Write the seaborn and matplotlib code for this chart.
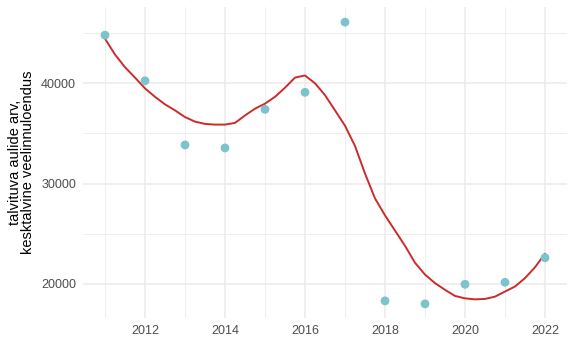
import numpy as np
import pandas as pd
import matplotlib
matplotlib.use('Agg')
import matplotlib.pyplot as plt
import seaborn as sns
from matplotlib.ticker import MultipleLocator

# yearly counts (points)
years = [2011, 2012, 2013, 2014, 2015, 2016, 2017, 2018, 2019, 2020, 2021, 2022]
counts = [44800, 40250, 33850, 33550, 37400, 39100, 46100, 18300, 18000, 19950, 20150, 22600]

# smoothed curve, quarter-year steps
smooth_x = [2011, 2011.25, 2011.5, 2011.75, 2012, 2012.25, 2012.5, 2012.75,
            2013, 2013.25, 2013.5, 2013.75, 2014, 2014.25, 2014.5, 2014.75,
            2015, 2015.25, 2015.5, 2015.75, 2016, 2016.25, 2016.5, 2016.75,
            2017, 2017.25, 2017.5, 2017.75, 2018, 2018.25, 2018.5, 2018.75,
            2019, 2019.25, 2019.5, 2019.75, 2020, 2020.25, 2020.5, 2020.75,
            2021, 2021.25, 2021.5, 2021.75, 2022]
smooth_y = [44450, 42870, 41600, 40570, 39490, 38650, 37900, 37300,
            36630, 36180, 35950, 35880, 35880, 36050, 36790, 37470,
            37970, 38650, 39560, 40570, 40780, 40000, 38820, 37300,
            35770, 33750, 31000, 28520, 26830, 25310, 23790, 22100,
            20920, 20070, 19400, 18790, 18550, 18450, 18490, 18720,
            19230, 19730, 20570, 21650, 23010]

ylabel = 'talvituva aulide arv,\nkesktalvine veelinnuloendus'

df = pd.DataFrame({'aasta': years, 'arv': counts})
sm = pd.DataFrame({'aasta': smooth_x, 'arv': smooth_y})

sns.set_theme(style='white')
plt.rcParams['font.family'] = ['Liberation Sans', 'DejaVu Sans']

fig = plt.figure(figsize=(5.74, 3.55), dpi=100)
ax = fig.add_axes([83/574, 1 - 318/355, (567-83)/574, (318-7)/355])

sns.lineplot(data=sm, x='aasta', y='arv', ax=ax, color='#CC2B2B', linewidth=1.4, zorder=3)
sns.scatterplot(data=df, x='aasta', y='arv', ax=ax, color='#7CC3CD', s=40,
                edgecolor='none', zorder=4)

ax.set_xlim(2010.45, 2022.55)
ax.set_ylim(16590, 47610)
ax.xaxis.set_major_locator(MultipleLocator(2))
ax.xaxis.set_minor_locator(MultipleLocator(1))
ax.yaxis.set_major_locator(MultipleLocator(10000))
ax.yaxis.set_minor_locator(MultipleLocator(5000))
ax.grid(which='major', color='#EBEBEB', linewidth=1.1)
ax.grid(which='minor', color='#EBEBEB', linewidth=0.6)
ax.set_axisbelow(True)
for s in ax.spines.values():
    s.set_visible(False)
ax.tick_params(which='both', length=0, labelsize=9, labelcolor='#4D4D4D', pad=5)
ax.set_xlabel('')
ax.set_ylabel(ylabel, fontsize=10.5, color='black', labelpad=4, linespacing=0.95)

fig.savefig('out.png', dpi=100)
